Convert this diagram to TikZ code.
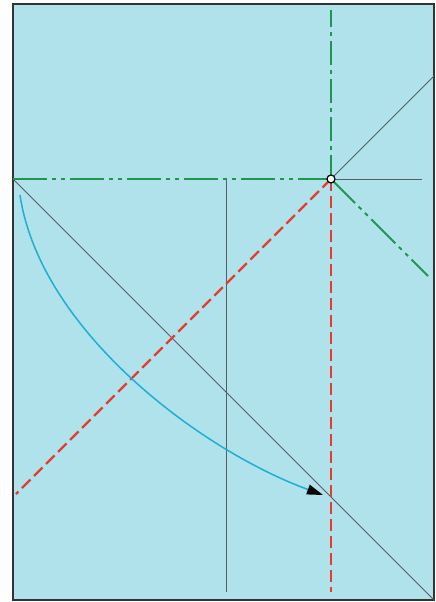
\documentclass[tikz,border=0pt]{standalone}
\usetikzlibrary{arrows.meta}
\definecolor{bgc}{RGB}{176,226,236}
\definecolor{grn}{RGB}{30,150,80}
\definecolor{rd}{RGB}{228,60,45}
\definecolor{cy}{RGB}{30,175,210}
\definecolor{gry}{RGB}{85,95,100}
\tikzset{
  frame/.style={draw=black!80,line width=1.6pt,fill=bgc},
  thin/.style={draw=gry,line width=1pt},
  greenline/.style={draw=grn,line width=2pt,dash pattern=on 34pt off 5pt on 4pt off 5pt on 4pt off 5pt},
  greenvert/.style={draw=grn,line width=2pt,dash pattern=on 24pt off 5pt on 4pt off 5pt},
  redline/.style={draw=rd,line width=2.2pt,dash pattern=on 12pt off 5pt},
  curve/.style={draw=cy,line width=1.5pt,-{Triangle[length=16pt,width=10pt,black]}},
  pivot/.style={circle,draw=black,fill=white,line width=1.2pt,inner sep=0pt,minimum size=8pt}
}
\begin{document}
\begin{tikzpicture}[x=1pt,y=-1pt]
\useasboundingbox (0,0) rectangle (436,602);
\draw[frame] (13,4) rectangle (434,600);
\coordinate (L) at (13,179);
\coordinate (BR) at (434,600);
\coordinate (TR) at (434,76);
\coordinate (HR) at (422,179);
\coordinate (VT) at (331,10);
\coordinate (GD) at (428,276);
\coordinate (RD) at (16,494);
\coordinate (RB) at (331,592);
\coordinate (MT) at (226,179);
\coordinate (MB) at (226,592);
\coordinate (CS) at (20,195);
\coordinate (CE) at (323,495);
% thin grey lines
\draw[thin] (L) -- (BR);
\draw[thin] (MT) -- (MB);
\draw[thin] (331,179) -- (HR);
\draw[thin] (331,179) -- (TR);
% green dash-dot lines
\draw[greenline] (L) -- (331,179);
\draw[greenvert] (331,179) -- (VT);
\draw[greenline] (331,179) -- (GD);
% red dashed lines
\draw[redline] (331,179) -- (RD);
\draw[redline] (331,179) -- (RB);
% cyan curve
\draw[curve] (CS) .. controls (40,330) and (200,450) .. (CE);
\node[pivot] (P) at (331,179) {};
\end{tikzpicture}
\end{document}
